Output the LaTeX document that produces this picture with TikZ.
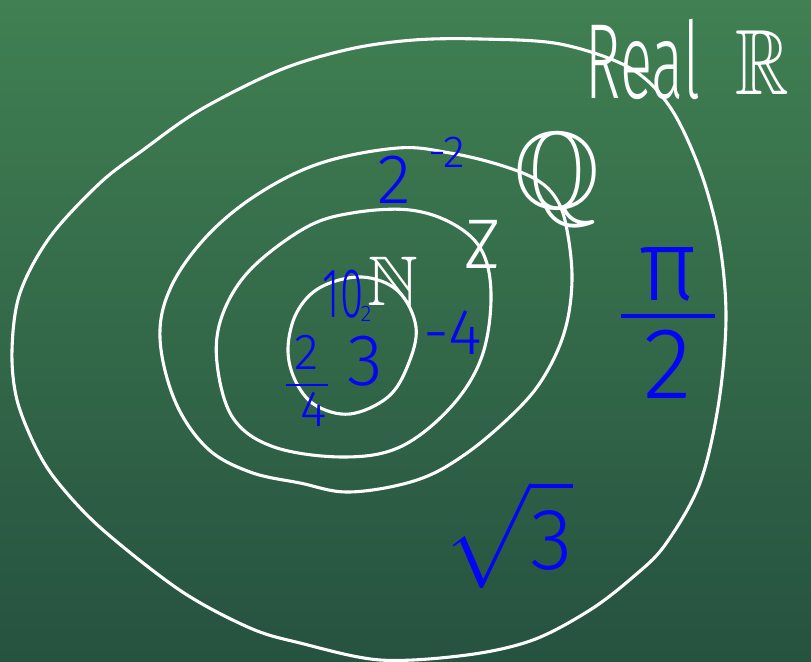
\documentclass[tikz,border=0pt]{standalone}
\usepackage{amsmath}
\usepackage{amssymb}
\usepackage{fontspec}
\setmainfont{Fira Sans Light}
\usepackage{tikz}
\usetikzlibrary{positioning}
\definecolor{boardtop}{RGB}{64,128,82}
\definecolor{boardbot}{RGB}{38,82,64}
\definecolor{inkblue}{RGB}{5,5,245}
\newcommand{\chalksize}[1]{\fontsize{#1}{#1}\selectfont}

\begin{document}
\begin{tikzpicture}[
  x=0.025cm, y=-0.025cm,
  chalk/.style={draw=white, line width=2.2pt, line join=round},
  ink/.style={text=inkblue, inner sep=0pt},
  setname/.style={text=white, inner sep=0pt}
]
  % the board
  \useasboundingbox (0,0) rectangle (811,662);
  \clip (0,0) rectangle (811,662);
  \shade[top color=boardtop, bottom color=boardbot] (0,0) rectangle (811,662);

  % reals, the big outer loop
  \draw[chalk] plot[smooth cycle, tension=0.55] coordinates {
    (414,40) (480,39) (560,44) (630,68) (670,107) (700,170) (719,240)
    (726,316) (719,401) (700,483) (665,545) (633,577) (590,610) (533,640)
    (467,655) (380,660) (300,643) (250,628) (181,591) (103,530) (60,485)
    (37,450) (17,400) (12,350) (20,293) (50,237) (100,183) (143,150)
    (200,110) (280,70) (350,49)};

  % rationals
  \draw[chalk] plot[smooth cycle, tension=0.6] coordinates {
    (398,148) (450,153) (500,165) (537,180) (557,200) (567,230) (572,280)
    (565,330) (545,375) (517,410) (467,453) (417,480) (350,492) (300,483)
    (250,472) (207,448) (175,401) (160,338) (171,287) (207,236) (258,194)
    (321,163)};

  % integers
  \draw[chalk] plot[smooth cycle, tension=0.6] coordinates {
    (410,210) (455,225) (483,253) (491,300) (481,359) (450,408) (400,447)
    (343,457) (274,447) (233,418) (217,363) (222,316) (250,270) (305,228)
    (352,213)};

  % naturals
  \draw[chalk] plot[smooth cycle, tension=0.6] coordinates {
    (362,277) (398,291) (416,327) (408,365) (388,397) (350,414) (315,405)
    (295,380) (288,348) (297,312) (321,287)};

  % set names
  \node[setname, font=\chalksize{50}] (nat) at (393,281) {$\mathbb{N}$};
  \node[setname, font=\chalksize{50}] (int) at (483,244) {Z};
  \node[setname, font=\chalksize{78}] (rat) at (557,180) {$\mathbb{Q}$};
  \node[setname, font=\chalksize{76}, xscale=0.56, transform shape] (real) at (643,59) {Real};
  \node[setname, font=\chalksize{66}, xscale=0.8, transform shape] (realR) at (762,63) {$\mathbb{R}$};

  % members
  \node[ink, font=\chalksize{50}, xscale=0.6, transform shape] (ten) at (343,294) {10};
  \node[ink, font=\chalksize{16}] (two) at (366,314) {2};
  \node[ink, font=\chalksize{52}] (three) at (365,361) {3};
  \node[ink, font=\chalksize{36}] (quarter) at (307,381) {$\dfrac{\mbox{\,2\,}}{\mbox{\ 4}}$};
  \node[ink, font=\chalksize{46}] (minusfour) at (453,333) {-4};
  \node[ink, font=\chalksize{50}] (twobase) at (394,180) {2};
  \node[ink, font=\chalksize{32}] (twoexp) at (447,152) {-2};
  \node[ink, font=\chalksize{72}] (pihalf) at (668,323) {$\dfrac{\mbox{\,π\,}}{\mbox{2}}$};
  \node[ink, font=\chalksize{62}] (rootthree) at (508,535) {$\sqrt{\mbox{3}}$};
\end{tikzpicture}
\end{document}
